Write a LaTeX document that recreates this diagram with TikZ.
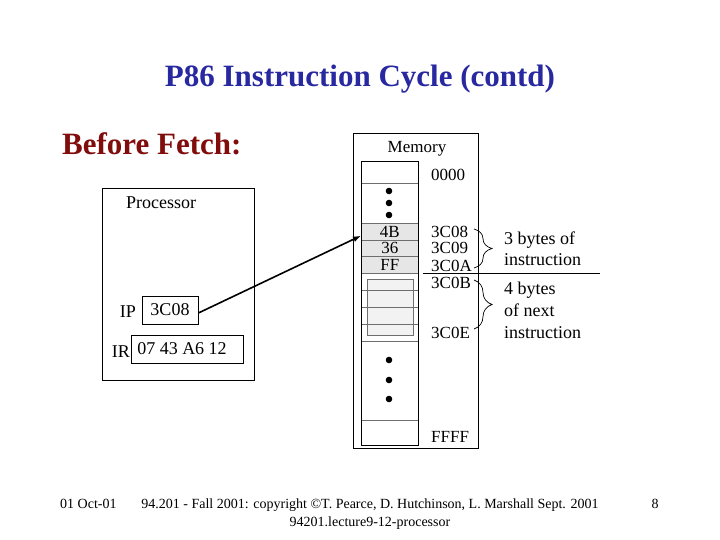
\documentclass[tikz,border=0pt]{standalone}
\usepackage{fontspec}
\setmainfont{Liberation Serif}
\usetikzlibrary{decorations.pathreplacing,arrows.meta}
\definecolor{titleblue}{RGB}{40,40,160}
\definecolor{darkred}{RGB}{128,12,12}
\definecolor{cellgray}{RGB}{230,230,230}
\definecolor{overlaygray}{RGB}{242,242,242}
\definecolor{linegray}{RGB}{110,110,110}
\begin{document}
\begin{tikzpicture}[x=1pt,y=-1pt,
  bigtext/.style={inner sep=0, font=\fontsize{31}{31}\selectfont\bfseries},
  memlbl/.style={anchor=base west, inner sep=0, font=\fontsize{17}{17}\selectfont},
  proclbl/.style={inner sep=0, font=\fontsize{18}{18}\selectfont},
  notelbl/.style={anchor=base west, inner sep=0, font=\fontsize{18}{18}\selectfont},
  foot/.style={inner sep=0, font=\fontsize{14}{14}\selectfont},
  cell/.style={draw=linegray, line width=0.8pt, minimum width=57pt, inner sep=0,
    font=\fontsize{17}{17}\selectfont},
  regbox/.style={draw, line width=0.8pt, minimum height=28pt, inner sep=0,
    font=\fontsize{18}{18}\selectfont},
  dot/.style={fill=black},
  bracestyle/.style={decorate, decoration={brace, amplitude=18pt, aspect=0.5}, line width=0.7pt}
]
\useasboundingbox (0,0) rectangle (720,540);
\fill[white] (0,0) rectangle (720,540);

% titles
\node[bigtext, text=titleblue, anchor=base] (title) at (360,87) {P86 Instruction Cycle (contd)};
\node[bigtext, text=darkred, anchor=base west] (before) at (62,155) {Before Fetch:};

% processor
\node[draw, line width=0.8pt, minimum width=152pt, minimum height=192pt, anchor=north west, inner sep=0] (proc) at (102,188) {};
\node[proclbl, anchor=base west] (proctxt) at (126,209) {Processor};
\node[regbox, minimum width=56pt] (ipbox) at (170,310) {3C08};
\node[proclbl, anchor=base east] (iplbl) at (136,317) {IP};
\node[regbox, minimum width=112pt] (irbox) at (187,349) {07 43 A6 12\hspace*{10pt}};
\node[proclbl, anchor=base east] (irlbl) at (130,357) {IR};

% memory
\node[draw, line width=0.8pt, minimum width=125pt, minimum height=315pt, anchor=north west, inner sep=0] (mem) at (353,133) {};
\node[memlbl, anchor=base] (memtxt) at (417,153) {Memory};

% overlay block behind the 4 next cells
\node[draw=linegray, fill=overlaygray, line width=0.8pt, minimum width=46pt, minimum height=56pt, anchor=north west, inner sep=0] (next) at (367,279) {};

% cells
\node[cell, minimum height=22pt, anchor=north west] (c0) at (361,161) {};
\node[cell, minimum height=40pt, anchor=north west] (cdots1) at (361,183) {};
\node[cell, fill=cellgray, minimum height=16.67pt, anchor=north west] (c1) at (361,223) {4B};
\node[cell, fill=cellgray, minimum height=16.67pt, anchor=north west] (c2) at (361,239.67) {36};
\node[cell, fill=cellgray, minimum height=16.66pt, anchor=north west] (c3) at (361,256.33) {FF};
\node[cell, minimum height=17pt, anchor=north west] (c4) at (361,273) {};
\node[cell, minimum height=17pt, anchor=north west] (c5) at (361,290) {};
\node[cell, minimum height=17pt, anchor=north west] (c6) at (361,307) {};
\node[cell, minimum height=17pt, anchor=north west] (c7) at (361,324) {};
\node[cell, minimum height=79pt, anchor=north west] (cdots2) at (361,341) {};
\node[cell, minimum height=25pt, anchor=north west] (clast) at (361,420) {};
\draw[line width=0.8pt] (c0.north west) rectangle (clast.south east);

% dots
\fill[dot] (389,191) circle (3.3);
\fill[dot] (389,203) circle (3.3);
\fill[dot] (389,215) circle (3.3);
\fill[dot] (389,360) circle (3.3);
\fill[dot] (389,380) circle (3.3);
\fill[dot] (389,399) circle (3.3);

% addresses
\node[memlbl] (a0) at (431,181) {0000};
\node[memlbl] (a1) at (431,237) {3C08};
\node[memlbl] (a2) at (431,254) {3C09};
\node[memlbl] (a3) at (431,271) {3C0A};
\node[memlbl] (a4) at (431,288) {3C0B};
\node[memlbl] (a5) at (431,338) {3C0E};
\node[memlbl] (a6) at (431,442) {FFFF};

% separator line
\coordinate (sepL) at (423,273);
\coordinate (sepR) at (600,273);
\draw[line width=0.8pt] (sepL) -- (sepR);

% braces
\coordinate (b1t) at (474,229);
\coordinate (b1b) at (474,268);
\coordinate (b2t) at (474,280);
\coordinate (b2b) at (474,329);
\draw[bracestyle] (b1t) -- (b1b);
\draw[bracestyle] (b2t) -- (b2b);

% notes
\node[notelbl] (n1) at (504,244) {3 bytes of};
\node[notelbl] (n2) at (504,265) {instruction};
\node[notelbl] (n3) at (504,294) {4 bytes};
\node[notelbl] (n4) at (504,316) {of next};
\node[notelbl] (n5) at (504,338) {instruction};

% arrow
\draw[line width=1.6pt, -{Latex[length=8pt,width=6pt]}] ([yshift=-3pt]ipbox.east) -- ([yshift=-4pt]c1.west);

% footer
\node[foot, anchor=base west] (f1) at (60,508) {01 Oct-01};
\node[foot, anchor=base] (f2) at (370,508) {94.201 - Fall 2001: copyright ©T. Pearce, D. Hutchinson, L. Marshall Sept. 2001};
\node[foot, anchor=base] (f3) at (370,526) {94201.lecture9-12-processor};
\node[foot, anchor=base] (f4) at (655,508) {8};
\end{tikzpicture}
\end{document}
